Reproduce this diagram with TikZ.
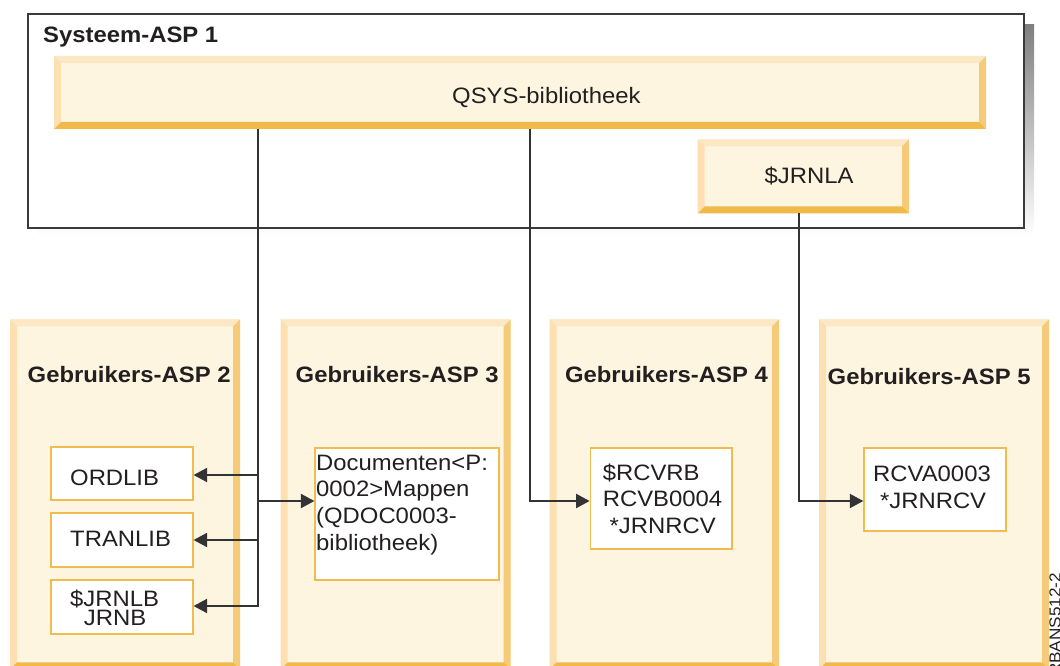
\documentclass[tikz,border=0pt]{standalone}
\usepackage{fontspec}
\setmainfont[FakeStretch=1.07]{Liberation Sans}
\usetikzlibrary{arrows.meta}

\definecolor{face}{HTML}{FEF5E1}
\definecolor{bvtop}{HTML}{FCE8C5}
\definecolor{bvleft}{HTML}{FCE0B2}
\definecolor{bvright}{HTML}{F5CA78}
\definecolor{bvbottom}{HTML}{F0B94A}
\definecolor{edgecol}{HTML}{F0BB4F}
\definecolor{ink}{HTML}{231F20}
\definecolor{wirecol}{HTML}{333333}
\definecolor{framecol}{HTML}{3A3A3A}
\definecolor{shade}{HTML}{DCDDDF}

% several lines with a fixed baseline distance; baseline of the box = first line
\newcommand\linestack[2]{\vtop{\baselineskip=#1\lineskiplimit=-100pt\lineskip=0pt\relax #2}}

\begin{document}
\begin{tikzpicture}[x=1pt,y=-1pt,
  bevel/.style={fill=face, draw=none, inner sep=0pt, outer sep=0pt, anchor=north west,
    path picture={
      \fill[bvtop] (path picture bounding box.north west) -- (path picture bounding box.north east)
        -- ([shift={(-7pt,-7pt)}]path picture bounding box.north east)
        -- ([shift={(7pt,-7pt)}]path picture bounding box.north west) -- cycle;
      \fill[bvleft] (path picture bounding box.north west)
        -- ([shift={(7pt,-7pt)}]path picture bounding box.north west)
        -- ([shift={(7pt,7pt)}]path picture bounding box.south west)
        -- (path picture bounding box.south west) -- cycle;
      \fill[bvright] (path picture bounding box.north east) -- (path picture bounding box.south east)
        -- ([shift={(-7pt,7pt)}]path picture bounding box.south east)
        -- ([shift={(-7pt,-7pt)}]path picture bounding box.north east) -- cycle;
      \fill[bvbottom] (path picture bounding box.south west) -- (path picture bounding box.south east)
        -- ([shift={(-7pt,7pt)}]path picture bounding box.south east)
        -- ([shift={(7pt,7pt)}]path picture bounding box.south west) -- cycle;
    }},
  libbox/.style={draw=edgecol, line width=1.8pt, fill=white, inner sep=0pt, anchor=north west},
  txt/.style={inner sep=0pt, anchor=base west, text=ink, font=\fontsize{22.3}{26.7}\selectfont},
  asptitle/.style={txt, font=\fontsize{22.3}{26.7}\selectfont\bfseries},
  wire/.style={draw=wirecol, line width=2pt},
  feed/.style={wire, -{Triangle[length=13.5pt,width=14pt]}}
]
\useasboundingbox (0,0) rectangle (1060,666);

% system ASP frame with its offset shadow
\fill[shade] (37,25) rectangle (1034,236);
\node[draw=framecol, line width=2pt, fill=white, inner sep=0pt, anchor=north west,
      minimum width=996pt, minimum height=213.4pt] (sys) at (27,13.3) {};
\node[asptitle] (systitle) at (43,42.5) {Systeem-ASP 1};

\node[bevel, minimum width=932pt, minimum height=73pt] (qsys) at (54,56) {};
\node[txt] (qsystext) at (452,103.3) {QSYS-bibliotheek};

\node[bevel, minimum width=211.3pt, minimum height=74pt] (jrnla) at (697.7,139.3) {};
\node[txt] (jrnlatext) at (764.5,183.3) {\$JRNLA};

% user ASP columns
\node[bevel, minimum width=230pt, minimum height=350pt] (asp2) at (10,319.3) {};
\node[bevel, minimum width=230pt, minimum height=350pt] (asp3) at (280.7,319.3) {};
\node[bevel, minimum width=229.4pt, minimum height=350pt] (asp4) at (549.6,319.3) {};
\node[bevel, minimum width=230pt, minimum height=350pt] (asp5) at (819,319.3) {};

\node[asptitle] (t2) at (27.5,382.7) {Gebruikers-ASP 2};
\node[asptitle] (t3) at (295.5,382.7) {Gebruikers-ASP 3};
\node[asptitle] (t4) at (564.8,382.7) {Gebruikers-ASP 4};
\node[asptitle] (t5) at (827.5,384) {Gebruikers-ASP 5};

% libraries and objects inside the user ASPs
\node[libbox, minimum width=141.8pt, minimum height=53.6pt] (ordlib) at (50,445.7) {};
\node[txt] (ordlibtext) at (70,485) {ORDLIB};
\node[libbox, minimum width=141.8pt, minimum height=53.7pt] (tranlib) at (50,512.3) {};
\node[txt] (tranlibtext) at (70,546) {TRANLIB};
\node[libbox, minimum width=141.8pt, minimum height=53.7pt] (jrnlb) at (50,579) {};
\node[txt] (jrnlbtext) at (70,606)
  {\linestack{19.3pt}{\hbox{\$JRNLB}\hbox{\hspace{13.7pt}JRNB}}};

\node[libbox, minimum width=183.6pt, minimum height=132pt] (docbox) at (314.4,447) {};
\node[txt] (doctext) at (316,470)
  {\linestack{26.7pt}{\hbox{Documenten<P:}\hbox{0002>Mappen}\hbox{(QDOC0003-}\hbox{bibliotheek)}}};

\node[libbox, minimum width=141.8pt, minimum height=101pt] (rcvbbox) at (589.6,447) {};
\node[txt] (rcvbtext) at (602.6,480)
  {\linestack{26.7pt}{\hbox{\$RCVRB}\hbox{RCVB0004}\hbox{\hspace{6.9pt}*JRNRCV}}};

\node[libbox, minimum width=141.6pt, minimum height=83.3pt] (rcvabox) at (863.3,446.7) {};
\node[txt] (rcvatext) at (873,481.7)
  {\linestack{26.6pt}{\hbox{RCVA0003}\hbox{\hspace{6.9pt}*JRNRCV}}};

% connectors
\coordinate (trunk) at (258,606);
\coordinate (b1) at (258,475);
\coordinate (b2) at (258,501);
\coordinate (b3) at (258,540);
\coordinate (t4turn) at (529.6,501);
\coordinate (t5turn) at (799,501);

\draw[feed] (qsys.south -| trunk) -- (trunk) -- (jrnlb.east |- trunk);
\draw[feed] (b1) -- (ordlib.east |- b1);
\draw[feed] (b3) -- (tranlib.east |- b3);
\draw[feed] (b2) -- (docbox.west |- b2);
\draw[feed] (qsys.south -| t4turn) -- (t4turn) -- (rcvbbox.west |- t4turn);
\draw[feed] (jrnla.south -| t5turn) -- (t5turn) -- (rcvabox.west |- t5turn);

% figure reference along the right edge
\node[inner sep=0pt, rotate=90, anchor=base east, text=ink,
      font=\fontsize{16}{16}\selectfont] (figref) at (1060.5,573) {RBANS512-2};
\end{tikzpicture}
\end{document}
